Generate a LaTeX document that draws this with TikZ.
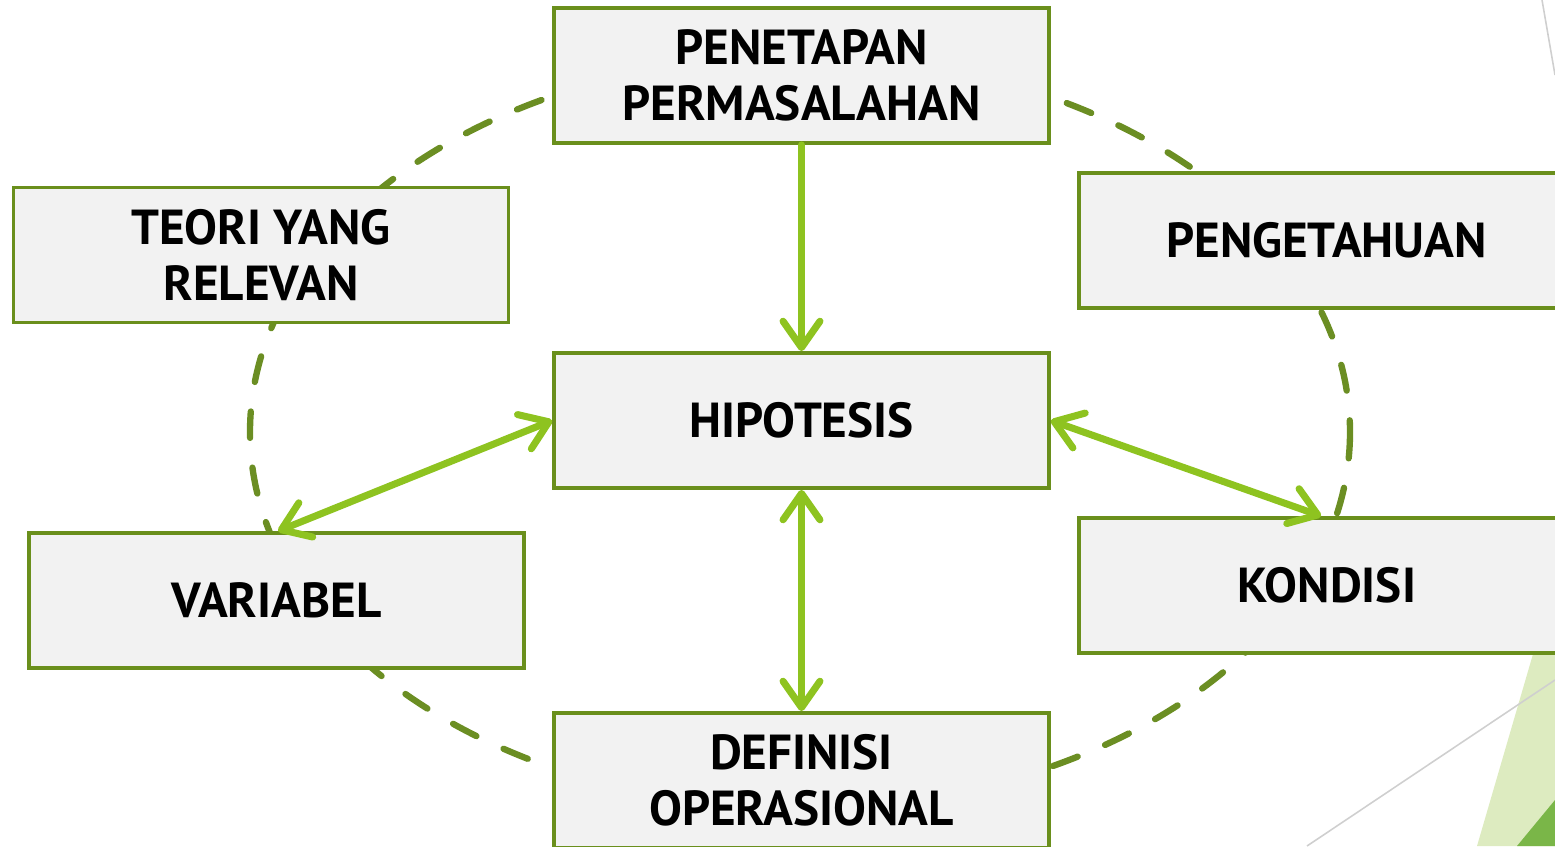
\documentclass[tikz,border=0pt]{standalone}
\usepackage{fontspec}
\setmainfont{PT Sans}
\usetikzlibrary{arrows.meta}
\definecolor{boxline}{HTML}{6A8F1C}
\definecolor{boxfill}{HTML}{F2F2F2}
\definecolor{arrowgreen}{HTML}{8EC320}
\definecolor{ringgreen}{HTML}{6B8E23}
\definecolor{lightdeco}{HTML}{DDEBC0}
\definecolor{darkdeco}{HTML}{7AB648}
\definecolor{decoline}{HTML}{CFCFCF}
\begin{document}
\begin{tikzpicture}[x=0.02cm,y=-0.02cm,
  box/.style={draw=boxline, line width=2.2pt, fill=boxfill, minimum width=9.9cm,
    minimum height=2.7cm, align=center, inner sep=0pt,
    font=\fontsize{28}{32}\selectfont\bfseries},
  ring/.style={draw=ringgreen, line width=3.6pt, line cap=round, dash pattern=on 15pt off 17pt},
  link/.style={draw=arrowgreen, line width=4pt, line cap=round},
  tip/.tip={Straight Barb[length=15pt,width=21pt,round]},
  decol/.style={draw=decoline, line width=0.9pt}]
\path[use as bounding box, clip] (0,0) rectangle (1555,846);
% background decorations
\fill[lightdeco] (1540,630) -- (1555,630) -- (1555,846) -- (1477,846) -- cycle;
\fill[darkdeco] (1555,800) -- (1555,846) -- (1517,846) -- cycle;
\draw[decol] (1542,0) -- (1555,75);
\draw[decol] (1307,846) -- (1555,680);
% dashed ring
\draw[ring] (800,432) ellipse [x radius=550, y radius=376];
% boxes
\node[box] (pen) at (801.5,75.5) {PENETAPAN\\PERMASALAHAN};
\node[box] (teo) at (261,255) {TEORI YANG\\RELEVAN};
\node[box] (pgt) at (1326.5,240.5) {PENGETAHUAN};
\node[box] (hip) at (801.5,420.5) {HIPOTESIS};
\node[box] (var) at (276.5,600.5) {VARIABEL};
\node[box] (kon) at (1326.5,585.5) {KONDISI};
\node[box] (def) at (801.5,780.5) {DEFINISI\\OPERASIONAL};
% arrows
\draw[link, -tip] (pen.south) -- (hip.north);
\draw[link, tip-tip] (hip.west) -- ([xshift=5.02cm]var.north west);
\draw[link, tip-tip] (hip.east) -- ([xshift=4.88cm]kon.north west);
\draw[link, tip-tip] (hip.south) -- (def.north);
\end{tikzpicture}
\end{document}
